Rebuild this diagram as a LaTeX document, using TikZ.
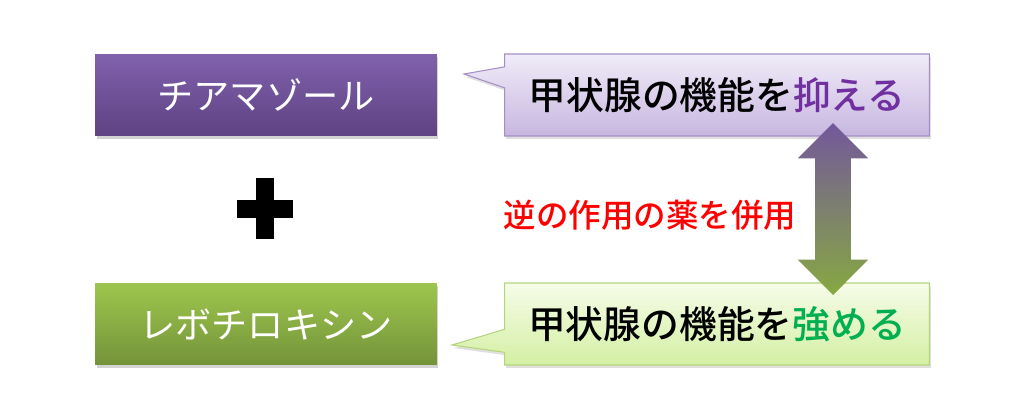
\documentclass[tikz,border=0pt]{standalone}
\usepackage{fontspec}
\setmainfont{Noto Sans CJK JP}
\newfontfamily\midjp{Noto Sans CJK JP Medium}
\usetikzlibrary{shapes.callouts,shapes.arrows,shadows}
\definecolor{purpleA}{HTML}{8061AC}
\definecolor{purpleB}{HTML}{5E4283}
\definecolor{greenA}{HTML}{9EC64D}
\definecolor{greenB}{HTML}{74933A}
\definecolor{lilacA}{HTML}{F0ECF8}
\definecolor{lilacB}{HTML}{C7B6E0}
\definecolor{lilacE}{HTML}{A58DC6}
\definecolor{limeA}{HTML}{F6FCE9}
\definecolor{limeB}{HTML}{D4EFA3}
\definecolor{limeE}{HTML}{B5D57C}
\definecolor{suppress}{HTML}{7030A0}
\definecolor{boost}{HTML}{00B050}
\begin{document}
\begin{tikzpicture}[x=0.02cm,y=-0.02cm,
  drug/.style={shape=rectangle,minimum width=6.84cm,minimum height=1.64cm,
    text=white,font=\fontsize{20.6pt}{21pt}\selectfont,
    drop shadow={opacity=0.35,shadow xshift=0.03cm,shadow yshift=-0.06cm}},
  balloon/.style={shape=rectangle callout,draw,line width=0.6pt,
    minimum width=8.5cm,minimum height=1.64cm,
    font=\fontsize{21.5pt}{22pt}\midjp,
    drop shadow={opacity=0.25,shadow xshift=0.03cm,shadow yshift=-0.06cm}}]
\useasboundingbox (0,0) rectangle (1024,416);
\node(tiam) at (266,95)[drug,top color=purpleA,bottom color=purpleB] {チアマゾール};
\node(levo) at (266,324)[drug,top color=greenA,bottom color=greenB] {レボチロキシン};

\fill (256,178) rectangle (274,239);
\fill (237,200) rectangle (293,218);

\node(down) at (717,95)[balloon,draw=lilacE,top color=lilacA,bottom color=lilacB,
  callout absolute pointer={(464,74)},callout pointer width=0.42cm]
  {甲状腺の機能を{\color{suppress}抑える}};
\node(up) at (717,324)[balloon,draw=limeE,top color=limeA,bottom color=limeB,
  callout absolute pointer={(452,345)},callout pointer width=0.46cm]
  {甲状腺の機能を{\color{boost}強める}};

\node(both) at (833,209)[shape=double arrow,shape border rotate=90,inner sep=0.35cm,
  minimum height=3.44cm,minimum width=1.4cm,double arrow head extend=0.35cm,
  top color=purpleA!90!black,bottom color=greenA!85!black] {};

\node(mix) at (650,215)[text=red,font=\fontsize{18.5pt}{19pt}\midjp]
  {逆の作用の薬を併用};
\end{tikzpicture}
\end{document}
